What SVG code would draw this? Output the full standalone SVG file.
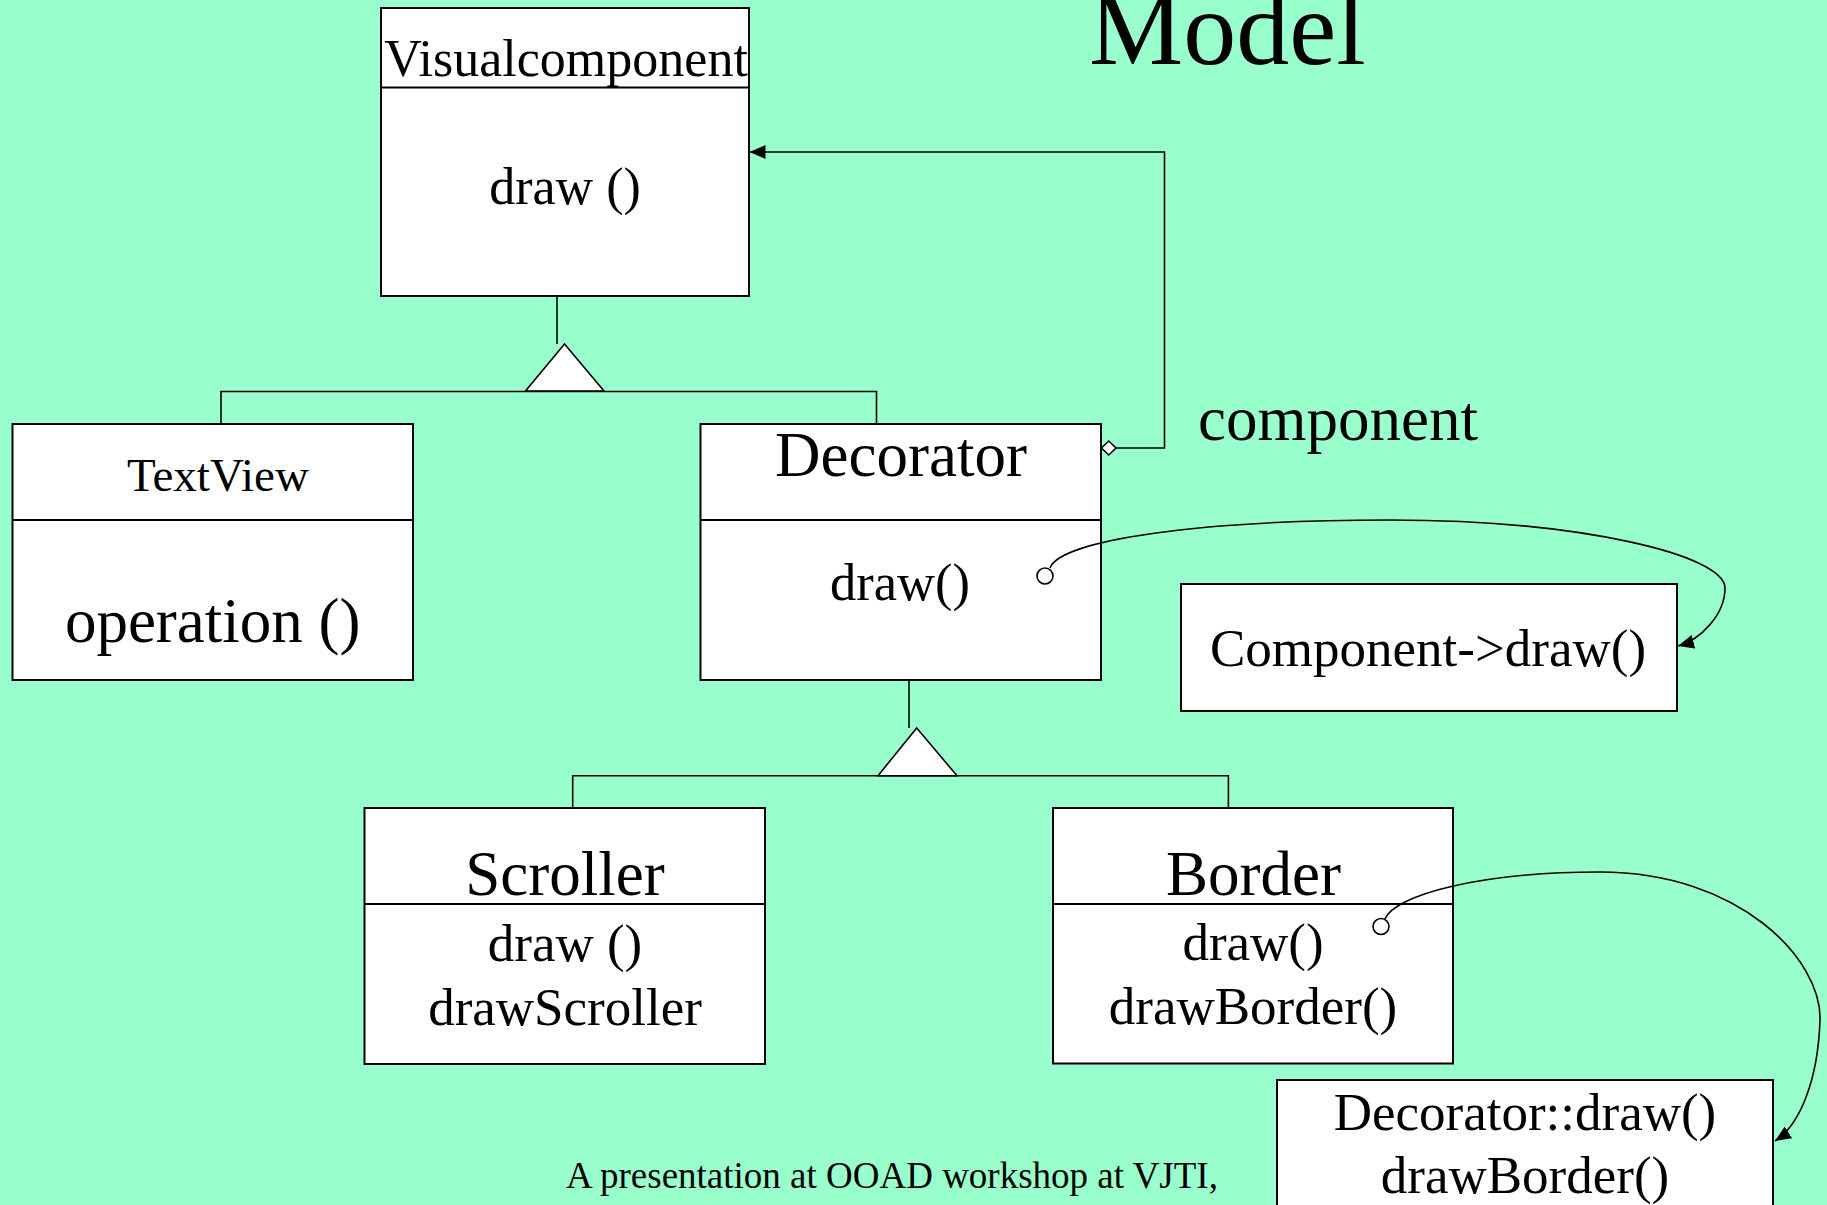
<svg xmlns="http://www.w3.org/2000/svg" width="1827" height="1205" viewBox="0 0 1827 1205">
<style>
.box{fill:#ffffff;stroke:#000000;stroke-width:2}
.div{stroke:#000000;stroke-width:2}
.ln{fill:none;stroke:#000000;stroke-width:1.6}
.t{font-family:"Liberation Serif","Times New Roman",serif;fill:#000000;text-anchor:middle}
</style>
<defs>
<marker id="arr" viewBox="0 0 16 14" refX="16" refY="7" markerWidth="16" markerHeight="14" markerUnits="userSpaceOnUse" orient="auto">
<path d="M0,0 L16,7 L0,14 z" fill="#000000"/>
</marker>
</defs>
<rect x="0" y="0" width="1827" height="1205" fill="#99ffcc"/>
<text class="t" x="1089" y="64" font-size="106" style="text-anchor:start">Model</text>
<text class="t" x="1198" y="440" font-size="63" style="text-anchor:start">component</text>
<text class="t" x="892" y="1188" font-size="37">A presentation at OOAD workshop at VJTI,</text>
<g id="visualcomponent">
<rect class="box" x="381" y="8" width="368" height="288"/>
<line class="div" x1="381" y1="87.5" x2="749" y2="87.5"/>
<text class="t" x="566" y="76" font-size="52">Visualcomponent</text>
<text class="t" x="565" y="204" font-size="52">draw ()</text>
</g>
<g id="textview">
<rect class="box" x="12.5" y="424" width="400.5" height="256"/>
<line class="div" x1="12.5" y1="520" x2="413" y2="520"/>
<text class="t" x="218" y="491" font-size="47">TextView</text>
<text class="t" x="212.7" y="642" font-size="63">operation ()</text>
</g>
<g id="decorator">
<rect class="box" x="700.5" y="424" width="400.5" height="256"/>
<line class="div" x1="700.5" y1="520" x2="1101" y2="520"/>
<text class="t" x="901" y="476" font-size="63">Decorator</text>
<text class="t" x="900" y="600" font-size="52.5">draw()</text>
</g>
<g id="component-draw">
<rect class="box" x="1181" y="584" width="496" height="127"/>
<text class="t" x="1428" y="666" font-size="53">Component-&gt;draw()</text>
</g>
<g id="scroller">
<rect class="box" x="364.5" y="808" width="400.5" height="256"/>
<line class="div" x1="364.5" y1="904" x2="765" y2="904"/>
<text class="t" x="565" y="895" font-size="63">Scroller</text>
<text class="t" x="565" y="961" font-size="53">draw ()</text>
<text class="t" x="565" y="1025" font-size="53">drawScroller</text>
</g>
<g id="border">
<rect class="box" x="1053" y="808" width="400" height="255.5"/>
<line class="div" x1="1053" y1="904" x2="1453" y2="904"/>
<text class="t" x="1253.5" y="895" font-size="63">Border</text>
<text class="t" x="1253" y="959.5" font-size="53">draw()</text>
<text class="t" x="1253" y="1024" font-size="53">drawBorder()</text>
</g>
<g id="decorator-draw">
<rect class="box" x="1277" y="1080" width="496" height="200"/>
<text class="t" x="1525" y="1130" font-size="53">Decorator::draw()</text>
<text class="t" x="1525" y="1193" font-size="53">drawBorder()</text>
</g>
<g id="connectors">
<polyline class="ln" points="557,296 557,344"/>
<polygon points="564.5,344 525.5,391 604,391" fill="#ffffff" stroke="#000000" stroke-width="1.6"/>
<polyline class="ln" points="221,424 221,391.5 876.5,391.5 876.5,424"/>
<polyline class="ln" points="909,680 909,728"/>
<polygon points="916.7,728 878,775.7 957,775.7" fill="#ffffff" stroke="#000000" stroke-width="1.6"/>
<polyline class="ln" points="572.7,808 572.7,775.7 1228.4,775.7 1228.4,808"/>
<polygon points="1101.5,448 1108.8,441 1116,448 1108.8,455" fill="#ffffff" stroke="#000000" stroke-width="1.6"/>
<polyline class="ln" points="1116,448 1164.5,448 1164.5,152 749.5,152" marker-end="url(#arr)"/>
<path class="ln" d="M1050,568 C1060,540 1200,520 1390,520 C1580,520 1725,555 1725,588 C1725,615 1700,640 1678,646" marker-end="url(#arr)"/>
<circle cx="1045" cy="576" r="8" fill="#ffffff" stroke="#000000" stroke-width="1.6"/>
<path class="ln" d="M1385,919 C1395,895 1480,872 1600,872 C1740,872 1822,960 1820,1020 C1818,1080 1800,1125 1775,1141" marker-end="url(#arr)"/>
<circle cx="1381" cy="926.5" r="8" fill="#ffffff" stroke="#000000" stroke-width="1.6"/>
</g>
</svg>
